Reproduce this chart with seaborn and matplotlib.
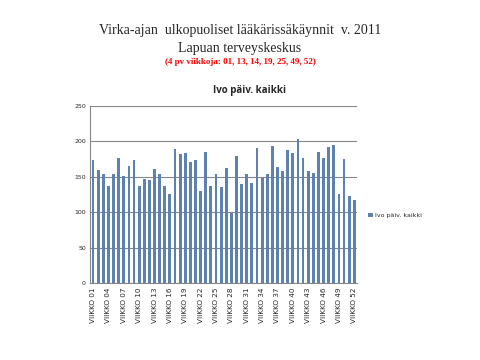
import numpy as np
import pandas as pd
import seaborn as sns
import matplotlib.pyplot as plt

# Weekly counts
weeks = [f"VIIKKO {i:02d}" for i in range(1, 53)]
visits = [174, 160, 154, 137, 154, 176, 151, 165, 174, 137,
          147, 145, 161, 154, 137, 125, 189, 182, 183, 171,
          174, 130, 185, 137, 154, 135, 162, 99, 179, 140,
          154, 141, 191, 148, 154, 193, 164, 158, 188, 183,
          203, 176, 158, 155, 185, 176, 192, 195, 125, 175,
          123, 117]
series_name = "Ivo päiv. kaikki"
y_ticks = [0, 50, 100, 150, 200, 250]

df = pd.DataFrame({"week": weeks, "visits": visits, "series": series_name})

sns.set_style("white")
fig = plt.figure(figsize=(4.8, 3.6), dpi=100)
ax = fig.add_axes([0.1875, 0.214, 0.557, 0.492])

sns.barplot(data=df, x="week", y="visits", hue="series", palette=["#4F81BD"],
            width=0.55, linewidth=0, ax=ax, errorbar=None)

ax.set_ylim(0, 250)
ax.set_yticks(y_ticks)
ax.set_yticklabels([str(t) for t in y_ticks], fontsize=4.5)
ax.set_xlim(-0.6, len(weeks) - 0.4)
ax.set_xticks(range(len(weeks)))
ax.set_xticklabels([w if i % 3 == 0 else "" for i, w in enumerate(weeks)],
                   rotation=90, fontsize=5.2)
ax.tick_params(axis="both", length=2, width=0.6, color="#868686", pad=1)
ax.tick_params(axis="x", direction="out")
ax.grid(axis="y", color="#868686", linewidth=0.8)
ax.set_axisbelow(True)
ax.set_xlabel("")
ax.set_ylabel("")
for side in ["top", "right"]:
    ax.spines[side].set_visible(False)
ax.spines["left"].set_color("#868686")
ax.spines["bottom"].set_color("#868686")

ax.legend(loc="center left", bbox_to_anchor=(1.02, 0.38), frameon=False,
          fontsize=4.5, handlelength=0.7, handleheight=0.7, handletextpad=0.4)

fig.text(0.5, 0.915, "Virka-ajan  ulkopuoliset lääkärissäkäynnit  v. 2011",
         ha="center", va="center", fontsize=10, family="Liberation Serif")
fig.text(0.5, 0.865, "Lapuan terveyskeskus", ha="center", va="center",
         fontsize=10, family="Liberation Serif")
fig.text(0.5, 0.828, "(4 pv viikkoja: 01, 13, 14, 19, 25, 49, 52)", ha="center",
         va="center", fontsize=6.5, color="#FF0000", fontweight="bold",
         family="Liberation Serif")
fig.text(0.52, 0.748, series_name, ha="center", va="center", fontsize=7,
         fontweight="bold", family="Open Sans")

fig.savefig("out.png", dpi=100)
